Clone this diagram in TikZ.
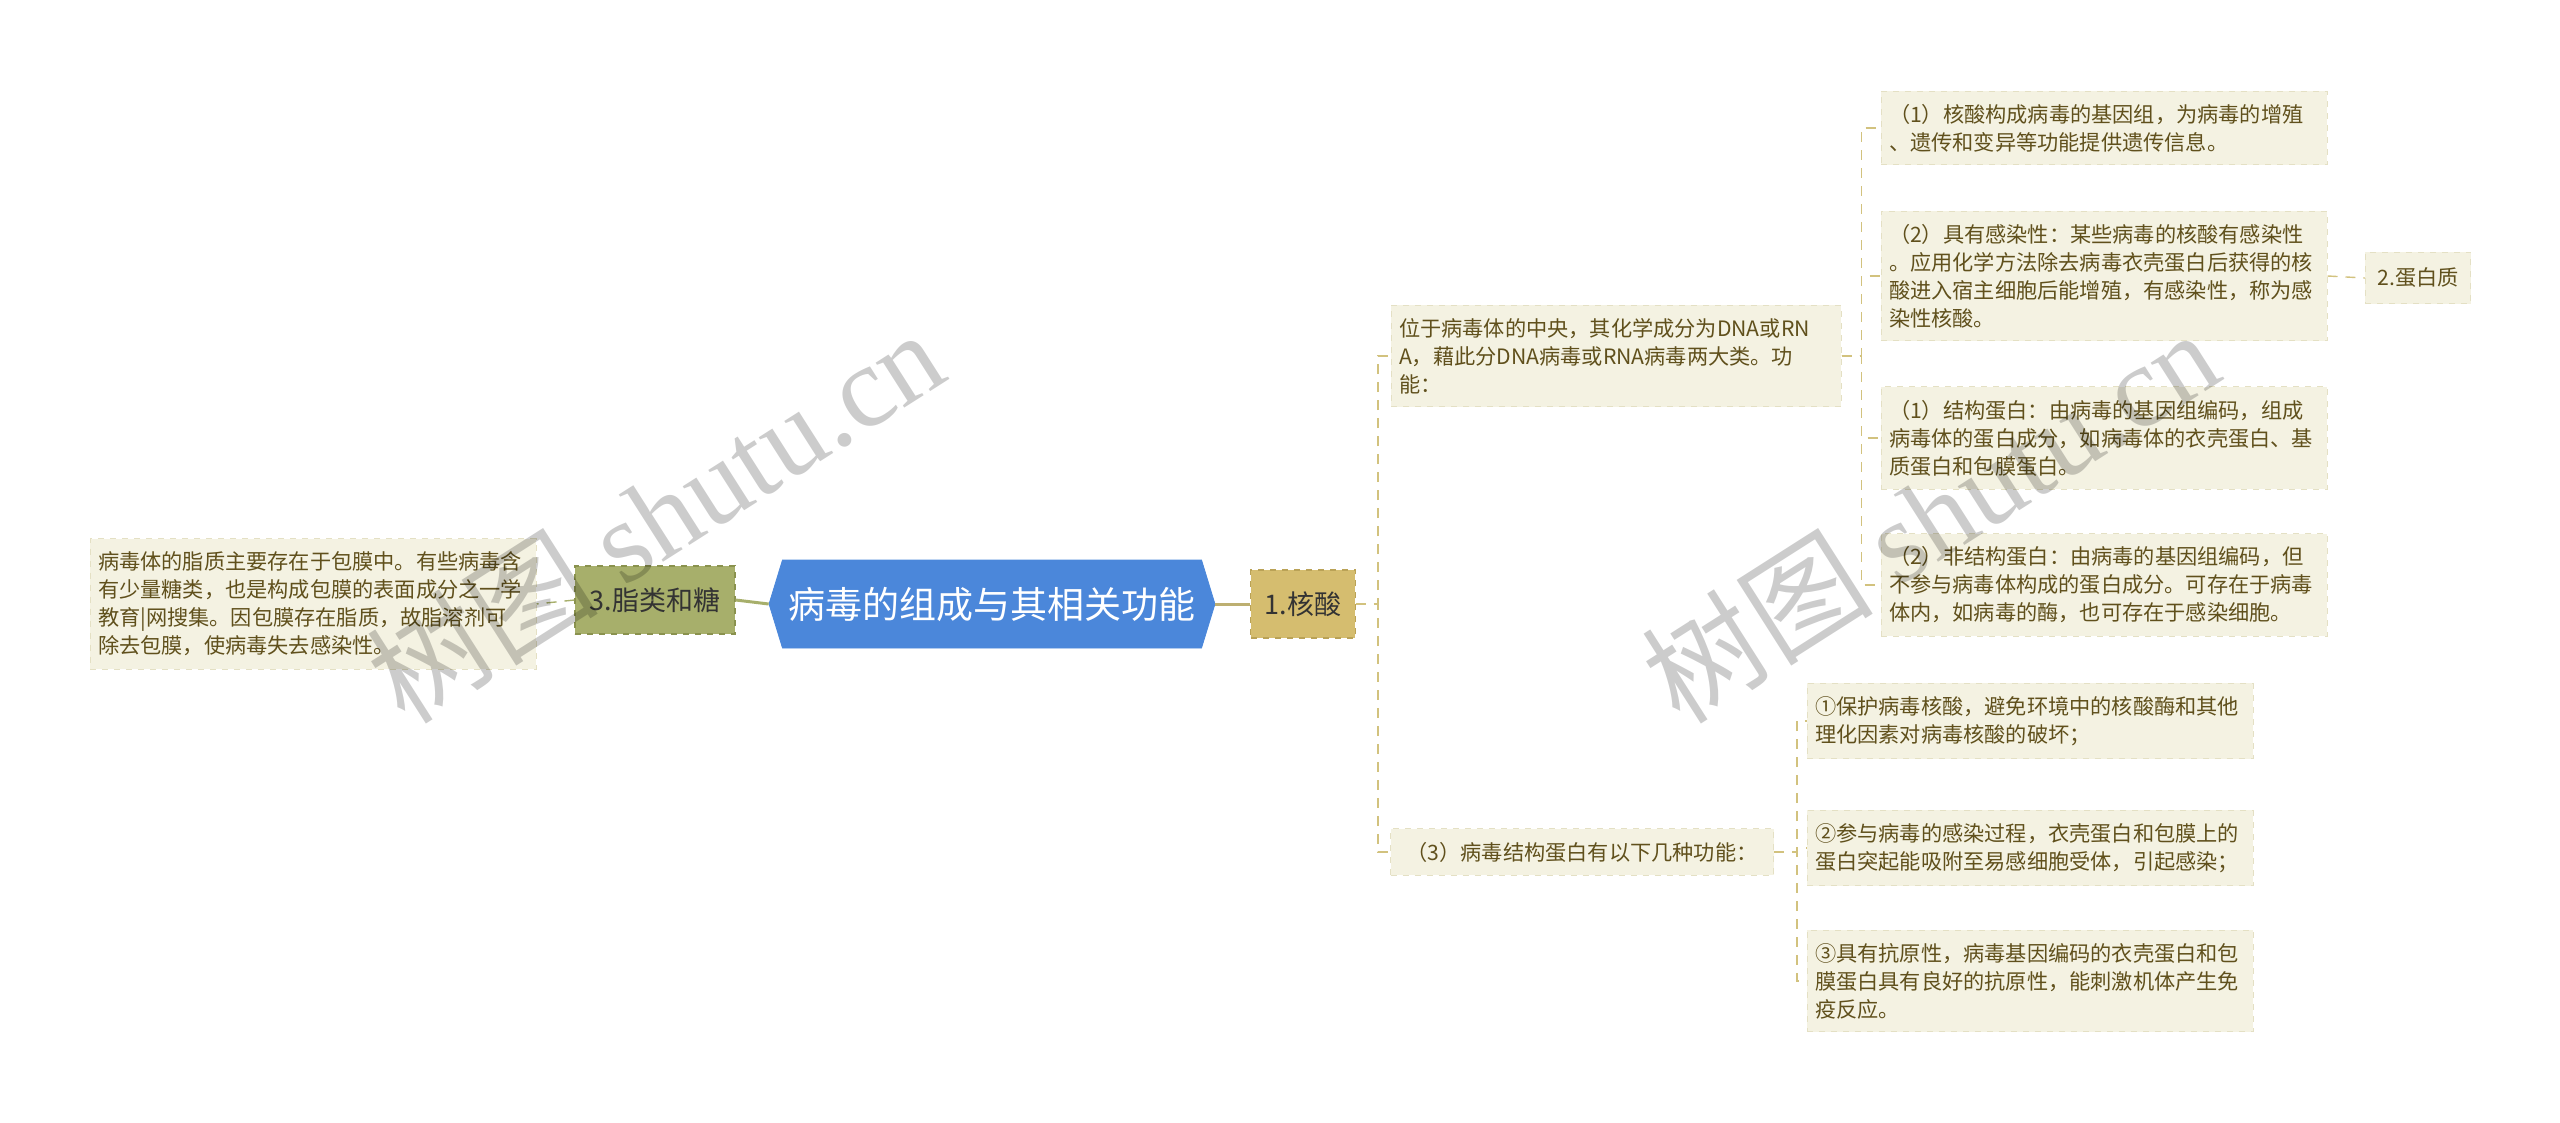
\documentclass[tikz,border=0pt]{standalone}
\usepackage{fontspec}
\setmainfont{Noto Sans CJK SC}
\newfontfamily\wmfont{Liberation Serif}
\usetikzlibrary{shapes.symbols}
\definecolor{rootblue}{RGB}{75,135,218}
\definecolor{fatbg}{RGB}{167,175,107}
\definecolor{fatbd}{RGB}{138,146,78}
\definecolor{nucbg}{RGB}{213,189,111}
\definecolor{nucbd}{RGB}{186,162,86}
\definecolor{leafbg}{RGB}{244,242,226}
\definecolor{leafbd}{RGB}{228,224,196}
\definecolor{leaftx}{RGB}{96,80,28}
\definecolor{nucline}{RGB}{210,194,126}
\definecolor{fatline}{RGB}{167,175,107}
\tikzset{
  rootnode/.style={shape=signal, signal to=west and east, signal pointer angle=146,
    fill=rootblue, draw=rootblue, text=white, font=\fontsize{18.5}{22}\selectfont,
    minimum width=220pt, minimum height=44pt, inner xsep=3pt},
  mainnode/.style={fill=#1bg, draw=#1bd, dashed, line width=0.6pt, text=black!80,
    font=\fontsize{13.5}{16}\selectfont, minimum height=34pt, inner xsep=7pt},
  leafbox/.style={fill=leafbg, draw=leafbd, dashed, line width=0.5pt, text=leaftx,
    font=\fontsize{10.6}{14}\selectfont, align=left, inner xsep=4pt, inner ysep=6.5pt},
  leaf/.style={leafbox, text width=#1},
  leaf/.default=215pt,
  link/.style={draw=nucline, dash pattern=on 5pt off 4pt, line width=0.7pt},
  wmark/.style={rotate=32.5, text=black, text opacity=0.2, font=\fontsize{58}{62}\selectfont}
}
\begin{document}
\begin{tikzpicture}[x=0.5pt,y=-0.5pt]
  \useasboundingbox (0,0) rectangle (2560,1123);

  \node[rootnode] (root) at (992,604) {病毒的组成与其相关功能};
  \node[mainnode=fat, minimum width=80pt] (fat) at (655,600) {3.脂类和糖};
  \node[mainnode=nuc, minimum width=52pt] (nuc) at (1303,604) {1.核酸};

  \node[leaf] (lip) at (313,604) {病毒体的脂质主要存在于包膜中。有些病毒含\\有少量糖类，也是构成包膜的表面成分之一学\\教育|网搜集。因包膜存在脂质，故脂溶剂可\\除去包膜，使病毒失去感染性。};

  \node[leaf=217pt] (pos) at (1616,356) {位于病毒体的中央，其化学成分为DNA或RN\\A，藉此分DNA病毒或RNA病毒两大类。功\\能：};
  \node[leafbox, inner xsep=8pt] (func) at (1582,852) {（3）病毒结构蛋白有以下几种功能：};

  \node[leaf] (nA) at (2104,128) {（1）核酸构成病毒的基因组，为病毒的增殖\\、遗传和变异等功能提供遗传信息。};
  \node[leaf] (nB) at (2104,276) {（2）具有感染性：某些病毒的核酸有感染性\\。应用化学方法除去病毒衣壳蛋白后获得的核\\酸进入宿主细胞后能增殖，有感染性，称为感\\染性核酸。};
  \node[leaf] (nC) at (2104,438) {（1）结构蛋白：由病毒的基因组编码，组成\\病毒体的蛋白成分，如病毒体的衣壳蛋白、基\\质蛋白和包膜蛋白。};
  \node[leaf] (nD) at (2104,585) {（2）非结构蛋白：由病毒的基因组编码，但\\不参与病毒体构成的蛋白成分。可存在于病毒\\体内，如病毒的酶，也可存在于感染细胞。};
  \node[leafbox, inner xsep=6pt, inner ysep=8pt] (prot) at (2418,278) {2.蛋白质};

  \node[leaf] (f1) at (2030,721) {①保护病毒核酸，避免环境中的核酸酶和其他\\理化因素对病毒核酸的破坏；};
  \node[leaf] (f2) at (2030,848) {②参与病毒的感染过程，衣壳蛋白和包膜上的\\蛋白突起能吸附至易感细胞受体，引起感染；};
  \node[leaf] (f3) at (2030,981) {③具有抗原性，病毒基因编码的衣壳蛋白和包\\膜蛋白具有良好的抗原性，能刺激机体产生免\\疫反应。};

  \draw[nucline!90!black, line width=1.5pt] (root.east) -- (nuc.west);
  \draw[fatline, line width=1.5pt] (root.west) -- (fat.east);
  \draw[link, draw=fatline] (fat.west) -- (lip.east);

  \draw[link] (nuc.east) -- ++(22,0) |- (pos.west);
  \draw[link] (nuc.east) -- ++(22,0) |- (func.west);
  \foreach \n in {nA,nB,nC,nD}
    \draw[link] (pos.east) -- ++(20,0) |- (\n.west);
  \draw[link] (nB.east) -- (prot.west);
  \foreach \n in {f1,f2,f3}
    \draw[link] (func.east) -- ++(23,0) |- (\n.west);

  \node[wmark] (wm1) at (655,515) {树图 {\wmfont shutu.cn}};
  \node[wmark] (wm2) at (1930,515) {树图 {\wmfont shutu.cn}};
\end{tikzpicture}
\end{document}
